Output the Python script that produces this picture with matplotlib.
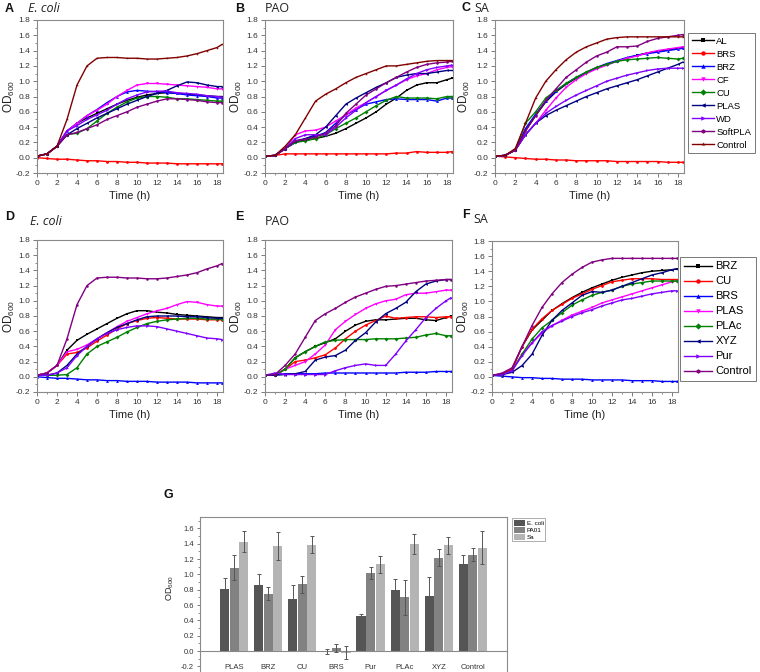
import matplotlib
matplotlib.use('Agg')
import matplotlib.pyplot as plt
from matplotlib.ticker import MultipleLocator, FormatStrFormatter
import numpy as np

plt.rcParams['font.family'] = ['Liberation Sans', 'DejaVu Sans']
plt.rcParams['mathtext.fontset'] = 'custom'
plt.rcParams['mathtext.rm'] = 'Liberation Sans'
plt.rcParams['mathtext.it'] = 'Liberation Sans:italic'
plt.rcParams['axes.unicode_minus'] = False

# ---------------- data ----------------
time_h = [0, 1, 2, 3, 4, 5, 6, 7, 8, 9, 10, 11, 12, 13, 14, 15, 16, 17, 18, 18.5]

# Top row (A-C) series
labels_top = ['AL', 'BRS', 'BRZ', 'CF', 'CU', 'PLAS', 'WD', 'SoftPLA', 'Control']
colors_top = ['#000000', '#FF0000', '#0000FF', '#FF00FF', '#008000', '#000080', '#8000FF', '#800080', '#800000']
markers_top = ['s', 'o', '^', 'v', 'D', '<', '>', 'h', '*']

A_AL      = [0.02, 0.05, 0.15, 0.35, 0.45, 0.52, 0.58, 0.64, 0.70, 0.75, 0.79, 0.82, 0.84, 0.85, 0.84, 0.83, 0.82, 0.81, 0.80, 0.80]
A_BRS     = [0.00, -0.01, -0.02, -0.02, -0.03, -0.04, -0.04, -0.05, -0.05, -0.06, -0.06, -0.07, -0.07, -0.07, -0.08, -0.08, -0.08, -0.08, -0.08, -0.08]
A_BRZ     = [0.02, 0.05, 0.15, 0.35, 0.45, 0.55, 0.63, 0.72, 0.80, 0.86, 0.88, 0.87, 0.86, 0.85, 0.84, 0.82, 0.81, 0.80, 0.78, 0.78]
A_CF      = [0.02, 0.05, 0.15, 0.35, 0.45, 0.55, 0.62, 0.70, 0.80, 0.88, 0.95, 0.97, 0.97, 0.96, 0.95, 0.94, 0.93, 0.92, 0.90, 0.90]
A_CU      = [0.02, 0.05, 0.15, 0.30, 0.32, 0.38, 0.48, 0.58, 0.66, 0.73, 0.78, 0.80, 0.80, 0.79, 0.77, 0.77, 0.76, 0.75, 0.74, 0.74]
A_PLAS    = [0.02, 0.05, 0.15, 0.30, 0.38, 0.45, 0.52, 0.58, 0.64, 0.70, 0.75, 0.80, 0.84, 0.88, 0.94, 0.99, 0.98, 0.95, 0.93, 0.93]
A_WD      = [0.02, 0.05, 0.15, 0.35, 0.42, 0.50, 0.56, 0.62, 0.70, 0.77, 0.82, 0.86, 0.87, 0.87, 0.85, 0.84, 0.83, 0.81, 0.80, 0.79]
A_SoftPLA = [0.02, 0.05, 0.15, 0.30, 0.33, 0.38, 0.43, 0.50, 0.55, 0.60, 0.66, 0.70, 0.74, 0.77, 0.77, 0.76, 0.75, 0.73, 0.72, 0.72]
A_Control = [0.02, 0.05, 0.15, 0.50, 0.95, 1.20, 1.30, 1.31, 1.31, 1.30, 1.30, 1.29, 1.29, 1.30, 1.31, 1.33, 1.36, 1.40, 1.44, 1.48]

B_AL      = [0.02, 0.03, 0.12, 0.20, 0.23, 0.25, 0.28, 0.32, 0.38, 0.45, 0.52, 0.60, 0.70, 0.78, 0.88, 0.95, 0.98, 0.98, 1.02, 1.04]
B_BRS     = [0.02, 0.03, 0.05, 0.05, 0.05, 0.05, 0.05, 0.05, 0.05, 0.05, 0.05, 0.05, 0.05, 0.06, 0.06, 0.08, 0.07, 0.07, 0.07, 0.08]
B_BRZ     = [0.02, 0.03, 0.12, 0.20, 0.25, 0.28, 0.33, 0.45, 0.56, 0.63, 0.70, 0.73, 0.76, 0.77, 0.76, 0.76, 0.76, 0.74, 0.78, 0.78]
B_CF      = [0.02, 0.03, 0.12, 0.30, 0.35, 0.36, 0.40, 0.48, 0.56, 0.65, 0.72, 0.80, 0.88, 0.95, 1.02, 1.07, 1.10, 1.15, 1.18, 1.19]
B_CU      = [0.02, 0.03, 0.12, 0.20, 0.22, 0.25, 0.30, 0.38, 0.45, 0.52, 0.60, 0.68, 0.75, 0.80, 0.78, 0.78, 0.78, 0.77, 0.80, 0.80]
B_PLAS    = [0.02, 0.03, 0.12, 0.22, 0.25, 0.30, 0.40, 0.55, 0.70, 0.78, 0.85, 0.92, 0.98, 1.05, 1.08, 1.10, 1.10, 1.12, 1.14, 1.14]
B_WD      = [0.02, 0.03, 0.12, 0.25, 0.30, 0.30, 0.30, 0.40, 0.52, 0.62, 0.72, 0.80, 0.88, 0.95, 1.03, 1.10, 1.15, 1.18, 1.20, 1.21]
B_SoftPLA = [0.02, 0.03, 0.12, 0.22, 0.24, 0.27, 0.32, 0.42, 0.58, 0.70, 0.82, 0.90, 0.98, 1.05, 1.12, 1.18, 1.22, 1.24, 1.25, 1.26]
B_Control = [0.02, 0.03, 0.15, 0.30, 0.52, 0.74, 0.83, 0.90, 0.98, 1.05, 1.10, 1.15, 1.20, 1.20, 1.22, 1.24, 1.26, 1.27, 1.27, 1.27]

C_AL      = [0.02, 0.03, 0.10, 0.35, 0.55, 0.73, 0.86, 0.96, 1.04, 1.11, 1.17, 1.22, 1.26, 1.30, 1.34, 1.37, 1.39, 1.41, 1.43, 1.44]
C_BRS     = [0.02, 0.01, 0.00, -0.01, -0.02, -0.02, -0.03, -0.03, -0.04, -0.04, -0.04, -0.04, -0.05, -0.05, -0.05, -0.05, -0.05, -0.06, -0.06, -0.06]
C_BRZ     = [0.02, 0.03, 0.10, 0.38, 0.57, 0.74, 0.87, 0.97, 1.05, 1.12, 1.18, 1.23, 1.27, 1.31, 1.34, 1.36, 1.38, 1.40, 1.42, 1.43]
C_CF      = [0.02, 0.03, 0.10, 0.30, 0.45, 0.62, 0.78, 0.92, 1.02, 1.10, 1.16, 1.21, 1.26, 1.30, 1.33, 1.37, 1.40, 1.42, 1.44, 1.45]
C_CU      = [0.02, 0.03, 0.10, 0.45, 0.60, 0.78, 0.88, 0.97, 1.05, 1.12, 1.18, 1.22, 1.26, 1.28, 1.29, 1.30, 1.31, 1.30, 1.29, 1.30]
C_PLAS    = [0.02, 0.03, 0.10, 0.30, 0.45, 0.55, 0.62, 0.68, 0.74, 0.80, 0.85, 0.90, 0.94, 0.98, 1.02, 1.07, 1.12, 1.17, 1.22, 1.25]
C_WD      = [0.02, 0.03, 0.10, 0.30, 0.45, 0.58, 0.67, 0.75, 0.82, 0.88, 0.94, 1.00, 1.04, 1.08, 1.11, 1.14, 1.16, 1.17, 1.17, 1.17]
C_SoftPLA = [0.02, 0.03, 0.10, 0.35, 0.55, 0.75, 0.90, 1.05, 1.15, 1.25, 1.33, 1.38, 1.45, 1.45, 1.46, 1.52, 1.56, 1.58, 1.60, 1.61]
C_Control = [0.02, 0.03, 0.12, 0.45, 0.78, 1.00, 1.15, 1.28, 1.38, 1.45, 1.50, 1.55, 1.57, 1.58, 1.58, 1.58, 1.58, 1.58, 1.58, 1.58]

# Bottom row (D-F) series
labels_bot = ['BRZ', 'CU', 'BRS', 'PLAS', 'PLAc', 'XYZ', 'Pur', 'Control']
colors_bot = ['#000000', '#FF0000', '#0000FF', '#FF00FF', '#008000', '#000080', '#8000FF', '#800080']
markers_bot = ['s', 'o', '^', 'v', 'D', '<', '>', 'h']

D_BRZ     = [0.02, 0.05, 0.15, 0.35, 0.48, 0.56, 0.63, 0.70, 0.77, 0.83, 0.87, 0.87, 0.85, 0.84, 0.82, 0.81, 0.80, 0.79, 0.78, 0.78]
D_CU      = [0.02, 0.05, 0.15, 0.30, 0.32, 0.38, 0.47, 0.55, 0.63, 0.70, 0.74, 0.77, 0.78, 0.77, 0.76, 0.76, 0.76, 0.75, 0.75, 0.75]
D_BRS     = [0.00, -0.01, -0.02, -0.02, -0.03, -0.04, -0.04, -0.05, -0.05, -0.06, -0.06, -0.06, -0.07, -0.07, -0.07, -0.07, -0.08, -0.08, -0.08, -0.08]
D_PLAS    = [0.02, 0.05, 0.15, 0.33, 0.36, 0.42, 0.50, 0.58, 0.66, 0.73, 0.78, 0.83, 0.87, 0.90, 0.95, 0.99, 0.98, 0.95, 0.93, 0.93]
D_PLAc    = [0.02, 0.02, 0.02, 0.03, 0.12, 0.30, 0.40, 0.46, 0.52, 0.59, 0.65, 0.70, 0.73, 0.75, 0.76, 0.77, 0.77, 0.76, 0.76, 0.76]
D_XYZ     = [0.02, 0.02, 0.05, 0.15, 0.30, 0.40, 0.50, 0.58, 0.65, 0.70, 0.75, 0.79, 0.80, 0.80, 0.80, 0.79, 0.79, 0.78, 0.77, 0.77]
D_Pur     = [0.02, 0.02, 0.05, 0.12, 0.28, 0.40, 0.50, 0.57, 0.62, 0.65, 0.67, 0.67, 0.66, 0.63, 0.60, 0.57, 0.54, 0.51, 0.50, 0.49]
D_Control = [0.02, 0.05, 0.15, 0.50, 0.95, 1.20, 1.30, 1.31, 1.31, 1.30, 1.30, 1.29, 1.29, 1.30, 1.32, 1.34, 1.37, 1.42, 1.46, 1.49]

E_BRZ     = [0.02, 0.02, 0.10, 0.25, 0.33, 0.40, 0.45, 0.50, 0.60, 0.68, 0.73, 0.75, 0.75, 0.76, 0.77, 0.77, 0.75, 0.74, 0.78, 0.80]
E_CU      = [0.02, 0.02, 0.10, 0.20, 0.22, 0.25, 0.29, 0.38, 0.50, 0.60, 0.68, 0.74, 0.80, 0.77, 0.78, 0.79, 0.79, 0.78, 0.79, 0.79]
E_BRS     = [0.02, 0.03, 0.04, 0.04, 0.04, 0.04, 0.05, 0.05, 0.05, 0.05, 0.05, 0.05, 0.05, 0.05, 0.06, 0.06, 0.06, 0.07, 0.07, 0.07]
E_PLAS    = [0.02, 0.02, 0.10, 0.15, 0.20, 0.30, 0.42, 0.62, 0.73, 0.82, 0.90, 0.96, 1.00, 1.02, 1.08, 1.10, 1.10, 1.12, 1.14, 1.14]
E_PLAc    = [0.02, 0.02, 0.10, 0.25, 0.33, 0.40, 0.46, 0.48, 0.49, 0.49, 0.49, 0.50, 0.50, 0.50, 0.51, 0.52, 0.55, 0.57, 0.54, 0.54]
E_XYZ     = [0.02, 0.02, 0.03, 0.04, 0.07, 0.22, 0.26, 0.28, 0.35, 0.48, 0.58, 0.72, 0.83, 0.90, 0.98, 1.12, 1.22, 1.26, 1.28, 1.28]
E_Pur     = [0.02, 0.05, 0.03, 0.03, 0.03, 0.03, 0.03, 0.08, 0.12, 0.15, 0.17, 0.15, 0.15, 0.30, 0.47, 0.62, 0.78, 0.90, 1.00, 1.04]
E_Control = [0.02, 0.03, 0.15, 0.30, 0.52, 0.74, 0.83, 0.90, 0.98, 1.05, 1.10, 1.15, 1.19, 1.20, 1.22, 1.24, 1.26, 1.27, 1.28, 1.28]

F_BRZ     = [0.02, 0.04, 0.10, 0.40, 0.62, 0.75, 0.88, 0.97, 1.05, 1.12, 1.18, 1.23, 1.28, 1.32, 1.35, 1.38, 1.40, 1.41, 1.42, 1.43]
F_CU      = [0.02, 0.04, 0.10, 0.40, 0.63, 0.77, 0.88, 0.96, 1.04, 1.10, 1.16, 1.21, 1.26, 1.28, 1.30, 1.30, 1.30, 1.29, 1.29, 1.29]
F_BRS     = [0.02, 0.01, 0.00, -0.01, -0.01, -0.02, -0.02, -0.03, -0.03, -0.03, -0.04, -0.04, -0.04, -0.04, -0.05, -0.05, -0.05, -0.06, -0.06, -0.06]
F_PLAS    = [0.02, 0.03, 0.08, 0.30, 0.45, 0.58, 0.68, 0.75, 0.82, 0.87, 0.92, 0.98, 1.02, 1.06, 1.10, 1.14, 1.18, 1.22, 1.26, 1.27]
F_PLAc    = [0.02, 0.03, 0.08, 0.30, 0.50, 0.65, 0.75, 0.85, 0.95, 1.02, 1.08, 1.12, 1.15, 1.20, 1.23, 1.25, 1.27, 1.27, 1.27, 1.27]
F_XYZ     = [0.02, 0.03, 0.06, 0.15, 0.30, 0.55, 0.75, 0.88, 0.98, 1.08, 1.13, 1.12, 1.15, 1.20, 1.25, 1.30, 1.35, 1.38, 1.42, 1.43]
F_Pur     = [0.02, 0.03, 0.08, 0.28, 0.45, 0.60, 0.68, 0.74, 0.80, 0.85, 0.89, 0.94, 0.98, 1.02, 1.04, 1.07, 1.10, 1.12, 1.14, 1.14]
F_Control = [0.02, 0.05, 0.12, 0.40, 0.68, 0.92, 1.10, 1.25, 1.36, 1.45, 1.52, 1.55, 1.57, 1.57, 1.57, 1.57, 1.57, 1.57, 1.57, 1.57]

# Panel G bar data
bar_categories = ['PLAS', 'BRZ', 'CU', 'BRS', 'Pur', 'PLAc', 'XYZ', 'Control']
bar_series = ['E. coli', 'PA01', 'Sa']
ecoli_mean = [0.81, 0.86, 0.68, -0.01, 0.46, 0.80, 0.72, 1.13]
ecoli_err  = [0.15, 0.14, 0.18, 0.03, 0.02, 0.14, 0.25, 0.13]
pa01_mean  = [1.09, 0.75, 0.87, 0.04, 1.02, 0.70, 1.22, 1.26]
pa01_err   = [0.16, 0.08, 0.11, 0.05, 0.08, 0.23, 0.11, 0.09]
sa_mean    = [1.43, 1.37, 1.39, -0.02, 1.13, 1.40, 1.38, 1.35]
sa_err     = [0.14, 0.18, 0.11, 0.08, 0.11, 0.13, 0.11, 0.22]
bar_colors = ['#555555', '#828282', '#b4b4b4']

# ---------------- figure ----------------
W, H = 760, 672
fig = plt.figure(figsize=(W / 100, H / 100), dpi=100)


def px_axes(l, t, r, b):
    return fig.add_axes([l / W, 1 - b / H, (r - l) / W, (b - t) / H])


SPINE = '#8a8a8a'
TICKLAB = '#333333'


def style_curve_axes(ax, width_px, ylab_right_px):
    ax.set_xlim(0, 18.6)
    ax.set_ylim(-0.2, 1.8)
    ax.xaxis.set_major_locator(MultipleLocator(2))
    ax.xaxis.set_minor_locator(MultipleLocator(1))
    ax.yaxis.set_major_locator(MultipleLocator(0.2))
    ax.yaxis.set_minor_locator(MultipleLocator(0.1))
    ax.yaxis.set_major_formatter(FormatStrFormatter('%.1f'))
    ax.tick_params(which='major', direction='out', length=3, width=0.6, labelsize=6,
                   color='#666666', labelcolor=TICKLAB, pad=2)
    ax.tick_params(which='minor', direction='out', length=1.6, width=0.5, color='#666666')
    for s in ax.spines.values():
        s.set_color(SPINE)
        s.set_linewidth(0.8)
    ax.set_xlabel('Time (h)', fontsize=8, labelpad=3, color='#222222')
    ax.set_ylabel(r'OD$_{600}$', fontsize=8.5, color='#222222')
    ax.yaxis.set_label_coords(-ylab_right_px / width_px, 0.5)


def draw_curves(ax, series, labels, colors, markers):
    for vals, lab, col, mk in zip(series, labels, colors, markers):
        ax.plot(time_h, vals, color=col, lw=1.0, marker=mk, ms=2.0, mew=0,
                label=lab)


top_sets = [
    [A_AL, A_BRS, A_BRZ, A_CF, A_CU, A_PLAS, A_WD, A_SoftPLA, A_Control],
    [B_AL, B_BRS, B_BRZ, B_CF, B_CU, B_PLAS, B_WD, B_SoftPLA, B_Control],
    [C_AL, C_BRS, C_BRZ, C_CF, C_CU, C_PLAS, C_WD, C_SoftPLA, C_Control],
]
bot_sets = [
    [D_BRZ, D_CU, D_BRS, D_PLAS, D_PLAc, D_XYZ, D_Pur, D_Control],
    [E_BRZ, E_CU, E_BRS, E_PLAS, E_PLAc, E_XYZ, E_Pur, E_Control],
    [F_BRZ, F_CU, F_BRS, F_PLAS, F_PLAc, F_XYZ, F_Pur, F_Control],
]

top_boxes = [(37, 20, 223, 173), (265, 20, 453, 173), (495, 20, 684, 173)]
bot_boxes = [(37, 240, 223, 392), (265, 240, 452, 392), (492, 241, 678, 392)]
ylab_top = [20, 21, 23]
ylab_bot = [20, 21, 21]

axes_top = []
for box, data, yo in zip(top_boxes, top_sets, ylab_top):
    ax = px_axes(*box)
    style_curve_axes(ax, box[2] - box[0], yo)
    draw_curves(ax, data, labels_top, colors_top, markers_top)
    axes_top.append(ax)

axes_bot = []
for box, data, yo in zip(bot_boxes, bot_sets, ylab_bot):
    ax = px_axes(*box)
    style_curve_axes(ax, box[2] - box[0], yo)
    draw_curves(ax, data, labels_bot, colors_bot, markers_bot)
    axes_bot.append(ax)

# Legends
leg_c = axes_top[2].legend(loc='upper left', bbox_to_anchor=(688 / W, 1 - 33 / H),
                           bbox_transform=fig.transFigure, fontsize=6.8, frameon=True,
                           fancybox=False, edgecolor='#555555', borderaxespad=0,
                           handlelength=2.3, labelspacing=0.42, borderpad=0.4,
                           markerscale=1.6, handletextpad=0.3)
leg_c.get_frame().set_linewidth(0.7)

leg_f = axes_bot[2].legend(loc='upper left', bbox_to_anchor=(680 / W, 1 - 257 / H),
                           bbox_transform=fig.transFigure, fontsize=8, frameon=True,
                           fancybox=False, edgecolor='#555555', borderaxespad=0,
                           handlelength=2.5, labelspacing=0.45, borderpad=0.4,
                           markerscale=1.6, handletextpad=0.3)
leg_f.get_frame().set_linewidth(0.7)

# Panel letters and titles
letter_kw = dict(fontsize=9, fontweight='bold', va='center', ha='left', color='#111111')
fig.text(5 / W, 1 - 9 / H, 'A', **letter_kw)
fig.text(235 / W, 1 - 9 / H, 'B', **letter_kw)
fig.text(462 / W, 1 - 8 / H, 'C', **letter_kw)
fig.text(5 / W, 1 - 217 / H, 'D', **letter_kw)
fig.text(235 / W, 1 - 217 / H, 'E', **letter_kw)
fig.text(462 / W, 1 - 215 / H, 'F', **letter_kw)
fig.text(163 / W, 1 - 495 / H, 'G', **letter_kw)

title_kw = dict(fontsize=9, va='center', ha='left', color='#222222', family=['Open Sans', 'DejaVu Sans'])
fig.text(28 / W, 1 - 9 / H, 'E. coli', style='italic', **title_kw)
fig.text(265 / W, 1 - 8 / H, 'PAO', **title_kw)
fig.text(474 / W, 1 - 8 / H, 'SA', **title_kw)
fig.text(30 / W, 1 - 222 / H, 'E. coli', style='italic', **title_kw)
fig.text(265 / W, 1 - 222 / H, 'PAO', **title_kw)
fig.text(473 / W, 1 - 220 / H, 'SA', **title_kw)

# ---------------- Panel G ----------------
axg = px_axes(200, 517, 507, 674)
axg.set_xlim(0, 9)
axg.set_ylim(-0.3, 1.75)
xpos = np.arange(1, len(bar_categories) + 1)
bw = 0.27
offs = [-0.28, 0.0, 0.28]
means = [ecoli_mean, pa01_mean, sa_mean]
errs = [ecoli_err, pa01_err, sa_err]
for m, e, c, o, lab in zip(means, errs, bar_colors, offs, bar_series):
    axg.bar(xpos + o, m, width=bw, color=c, edgecolor='none', label=lab, zorder=2)
    axg.errorbar(xpos + o, m, yerr=e, fmt='none', ecolor='#555555', elinewidth=0.7,
                 capsize=1.5, capthick=0.7, zorder=3)
axg.spines['bottom'].set_position(('data', 0))
for s in axg.spines.values():
    s.set_color(SPINE)
    s.set_linewidth(0.8)
axg.set_xticks(xpos)
axg.set_xticklabels(bar_categories)
axg.yaxis.set_minor_locator(MultipleLocator(0.1))
axg.set_yticks(np.round(np.arange(-0.2, 1.61, 0.2), 1))
axg.yaxis.set_major_formatter(FormatStrFormatter('%.1f'))
axg.tick_params(axis='y', which='major', direction='out', length=2.5, width=0.6,
                labelsize=5.5, color='#666666', labelcolor=TICKLAB, pad=2)
axg.tick_params(axis='y', which='minor', direction='out', length=1.4, width=0.5, color='#666666')
axg.tick_params(axis='x', which='major', direction='out', length=0, labelsize=5.5,
                labelcolor=TICKLAB, pad=9)
axg.set_ylabel(r'OD$_{600}$', fontsize=6.5, color='#222222')
axg.yaxis.set_label_coords(-24 / 307, 0.55)

leg_g = axg.legend(loc='upper left', bbox_to_anchor=(512 / W, 1 - 518 / H),
                   bbox_transform=fig.transFigure, fontsize=4.5, frameon=True,
                   fancybox=False, edgecolor='#888888', borderaxespad=0,
                   handlelength=1.8, handleheight=1.1, labelspacing=0.15,
                   borderpad=0.25, handletextpad=0.3)
leg_g.get_frame().set_linewidth(0.6)

fig.savefig('out.png', dpi=100)
